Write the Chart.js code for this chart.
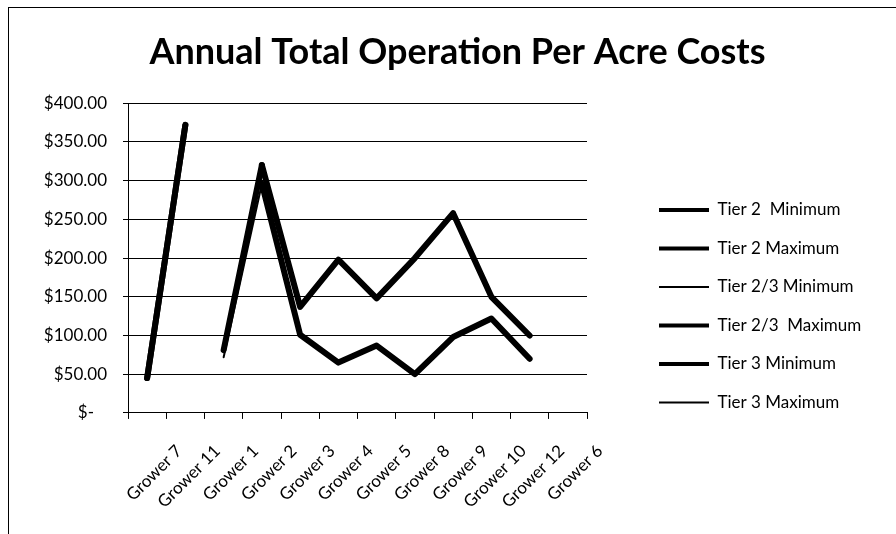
<!DOCTYPE html>
<html>
<head>
<meta charset="utf-8">
<script src="https://cdn.jsdelivr.net/npm/chart.js@4"></script>
<style>
body{margin:0;background:#fff;}
#wrap{position:relative;width:896px;height:534px;overflow:hidden;}
#frame{position:absolute;left:8px;top:7px;width:900px;height:540px;border:1px solid #000;box-sizing:border-box;pointer-events:none;}
</style>
</head>
<body>
<div id="wrap">
<canvas id="myChart" width="896" height="534"></canvas>
<div id="frame"></div>
</div>
<script>
// categories + series
let growers=["Grower 7","Grower 11","Grower 1","Grower 2","Grower 3","Grower 4","Grower 5","Grower 8","Grower 9","Grower 10","Grower 12","Grower 6"];
let tier2_min=[45,372,null,null,null,null,null,null,null,null,null,null];
let tier2_max=[45,372,null,null,null,null,null,null,null,null,null,null];
let tier23_min=[null,null,72,296,null,null,null,null,null,null,null,null];
let tier23_max=[null,null,81,320,null,null,null,null,null,null,null,null];
let tier3_min=[null,null,null,296,101,65,87,50,98,122,70,null];
let tier3_max=[null,null,null,320,137,198,148,200,258,150,100,null];
let y_ticks=[0,50,100,150,200,250,300,350,400];

let series_names=["Tier 2  Minimum","Tier 2 Maximum","Tier 2/3 Minimum","Tier 2/3  Maximum","Tier 3 Minimum","Tier 3 Maximum"];
let series_data=[tier2_min,tier2_max,tier23_min,tier23_max,tier3_min,tier3_max];
let line_widths=[6,6,2,6,6,6];
let legend_widths=[4,4,2,4,4,2];

let sets=[];
for(let i=0;i<series_data.length;i++){
  sets.push({
    label:series_names[i],
    data:series_data[i],
    borderColor:"#000",
    backgroundColor:"#000",
    borderWidth:line_widths[i],
    borderCapStyle:"round",
    borderJoinStyle:"round",
    pointRadius:0,
    fill:false
  });
}

new Chart("myChart",{
  type:"line",
  data:{labels:growers,datasets:sets},
  options:{
    responsive:false,
    animation:false,
    layout:{padding:{left:10,right:26,top:31,bottom:0}},
    plugins:{
      title:{display:true,text:"    Annual Total Operation Per Acre Costs",color:"#000",
        font:{family:"Lato",size:36,weight:"bold"},padding:{top:0,bottom:29}},
      legend:{position:"right",align:"start",
        // empty title just pushes the items down
        title:{display:true,text:" ",padding:76},
        labels:{color:"#000",font:{family:"Lato",size:17,lineHeight:2.03},usePointStyle:true,pointStyleWidth:50,padding:4,
          generateLabels:function(chart){
            let items=Chart.defaults.plugins.legend.labels.generateLabels(chart);
            // text as one-line array so the row height follows font lineHeight
            items.forEach(function(it,i){it.text=[it.text];it.lineWidth=legend_widths[i];it.pointStyle="line";it.strokeStyle="#000";});
            return items;
          }}
      },
      tooltip:{enabled:false}
    },
    scales:{
      x:{offset:true,
        grid:{offset:true,drawOnChartArea:false,color:"#000",tickLength:6},
        border:{color:"#000"},
        ticks:{color:"#000",padding:22,labelOffset:32,font:{family:"Lato",size:17},minRotation:45,maxRotation:45,autoSkip:false}},
      y:{min:0,max:400,
        afterBuildTicks:function(s){s.ticks=y_ticks.map(function(v){return {value:v};});},
        afterFit:function(s){s.width=118;},
        ticks:{color:"#000",padding:16,font:{family:"Lato",size:17},
          callback:function(v){return v===0?"$-   ":"$"+v.toFixed(2);}},
        grid:{color:"#000",tickLength:5},
        border:{color:"#000"}},
      // empty space between plot and legend
      gap:{type:"linear",position:"right",display:false,
        afterFit:function(s){s.width=68;}}
    }
  }
});
</script>
</body>
</html>
